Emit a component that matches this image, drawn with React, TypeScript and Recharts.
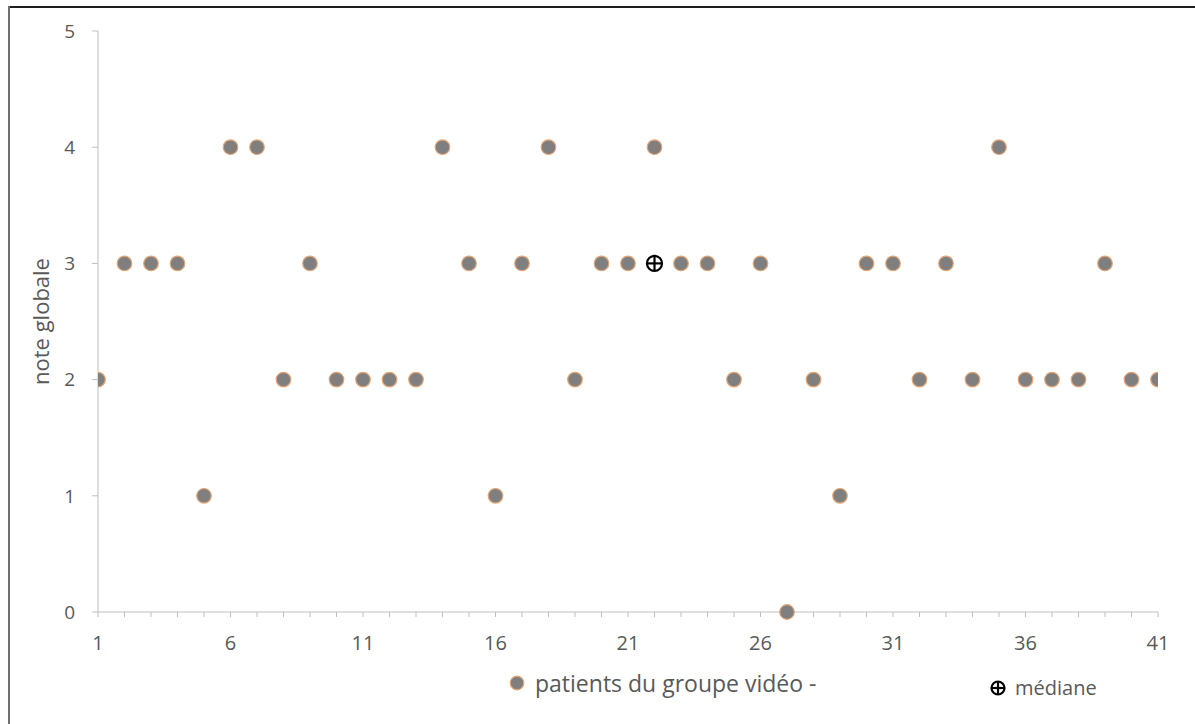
import React from "react";
import { ScatterChart, Scatter, XAxis, YAxis } from "recharts";

const patientIds: number[] = Array.from({ length: 41 }, (_, i) => i + 1);
const notes: number[] = [2, 3, 3, 3, 1, 4, 4, 2, 3, 2, 2, 2, 2, 4, 3, 1, 3, 4, 2, 3, 3, 4, 3, 3, 2, 3, 0, 2, 1, 3, 3, 2, 3, 2, 4, 2, 2, 2, 3, 2, 2];
const medianX = [22];
const medianY = [3];
const xTicks: number[] = patientIds;
const yTicks: number[] = [0, 1, 2, 3, 4, 5];
const seriesName = "patients du groupe vidéo -";
const medianName = "médiane";

const patientData = patientIds.map((x, i) => ({ x, y: notes[i] }));
const medianData = medianX.map((x, i) => ({ x, y: medianY[i] }));

const FONT = "'Open Sans', sans-serif";
const TXT = "#595959";
const AX = "#bfbfbf";
const DOT_FILL = "#7f7f7f";
const DOT_STROKE = "#e3a676";

const Dot = (props: any) => {
  const { cx, cy } = props;
  return <circle cx={cx} cy={cy} r={7.3} fill={DOT_FILL} stroke={DOT_STROKE} strokeWidth={1.2} />;
};

const MedianMark = ({ cx, cy, r = 7.5 }: any) => (
  <g>
    <circle cx={cx} cy={cy} r={r} fill="#fff" stroke="#000" strokeWidth={2.2} />
    <line x1={cx - r} y1={cy} x2={cx + r} y2={cy} stroke="#000" strokeWidth={2.2} />
    <line x1={cx} y1={cy - r} x2={cx} y2={cy + r} stroke="#000" strokeWidth={2.2} />
  </g>
);

const YLabel = (props: any) => {
  const vb = props.viewBox || {};
  const cx = 30;
  const cy = vb.y + vb.height / 2;
  return (
    <text x={cx} y={cy} transform={`rotate(-90, ${cx}, ${cy})`} textAnchor="middle" dominantBaseline="central" fill={TXT} fontSize={22} fontFamily={FONT}>
      note globale
    </text>
  );
};

export default function App() {
  return (
    <div style={{ position: "absolute", left: 0, top: 0, width: 1195, height: 724, overflow: "hidden", background: "#fff", fontFamily: FONT }}>
      <div style={{ position: "absolute", left: 8, top: 6, width: 1187, height: 2, background: "#1e1e1e" }} />
      <div style={{ position: "absolute", left: 8, top: 6, width: 2, height: 718, background: "#6e6e6e" }} />
      <div style={{ position: "absolute", left: 10, top: 8 }}>
        <ScatterChart width={1177} height={708} margin={{ top: 23, right: 29, left: 0, bottom: 0 }}>
          <XAxis
            type="number"
            dataKey="x"
            domain={[1, 41]}
            ticks={xTicks}
            interval={0}
            tickFormatter={(v: number) => ((v - 1) % 5 === 0 ? String(v) : "")}
            height={104}
            tickSize={5}
            tickMargin={19}
            stroke={AX}
            tick={{ fill: TXT, fontSize: 20, fontFamily: FONT }}
            allowDataOverflow
          />
          <YAxis
            type="number"
            dataKey="y"
            domain={[0, 5]}
            ticks={yTicks}
            interval={0}
            width={88}
            tickSize={6}
            tickMargin={17}
            stroke={AX}
            tick={{ fill: TXT, fontSize: 19, fontFamily: FONT }}
            label={<YLabel />}
          />
          <Scatter data={patientData} shape={<Dot />} isAnimationActive={false} />
          <Scatter data={medianData} shape={<MedianMark />} isAnimationActive={false} />
        </ScatterChart>
      </div>
      <div style={{ position: "absolute", left: 509, top: 667, display: "flex", alignItems: "center", color: TXT, fontSize: 23, fontFamily: FONT, whiteSpace: "nowrap" }}>
        <svg width={16} height={16} style={{ marginRight: 10 }}>
          <circle cx={8} cy={8} r={6.8} fill={DOT_FILL} stroke={DOT_STROKE} strokeWidth={1.2} />
        </svg>
        <span>{seriesName}</span>
      </div>
      <div style={{ position: "absolute", left: 990, top: 674, display: "flex", alignItems: "center", color: TXT, fontSize: 20, fontFamily: FONT, whiteSpace: "nowrap" }}>
        <svg width={16} height={16} style={{ marginRight: 9 }}>
          <MedianMark cx={8} cy={8} r={6.5} />
        </svg>
        <span>{medianName}</span>
      </div>
    </div>
  );
}
